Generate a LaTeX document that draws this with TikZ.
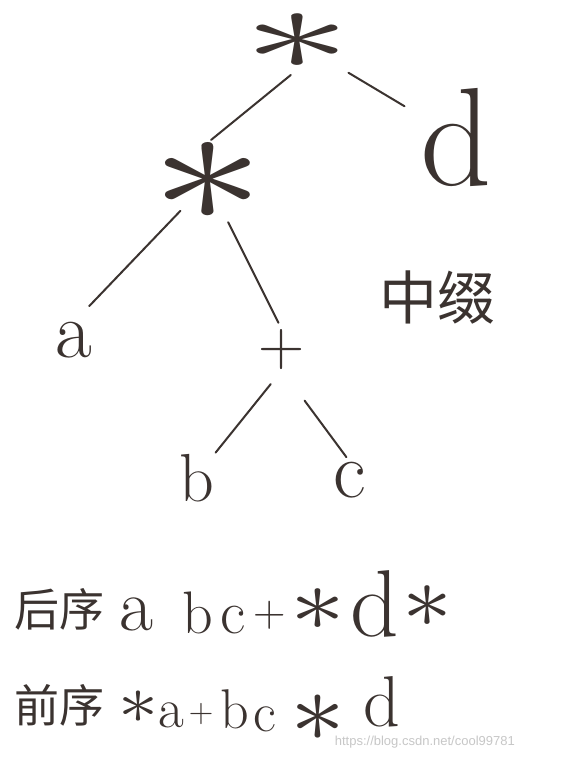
\documentclass[tikz,border=0pt]{standalone}
\usepackage{fontspec}
\usepackage{graphicx}
\usepackage{xcolor}
\newfontfamily\cjk{Noto Sans CJK SC}
\newfontfamily\wmfont{Liberation Sans}
\usetikzlibrary{positioning}
\definecolor{ink}{HTML}{3B3330}
\newcommand{\bigast}[2]{\scalebox{#1}[#2]{$\ast$}}
\newcommand{\fs}[1]{\fontsize{#1}{#1}\selectfont}

\begin{document}
\begin{tikzpicture}[
  x=1pt, y=-1pt,
  tok/.style={text=ink, inner sep=0pt, outer sep=0pt},
  edge/.style={draw=ink, line width=2pt, line cap=round}
]
\useasboundingbox (0,0) rectangle (579,758);
\fill[white] (0,0) rectangle (579,758);

% tree
\node[tok] (root) at (297,42) {\bigast{22}{12}};
\node[tok] (mul) at (208,182) {\bigast{23}{17}};
\node[tok, font=\fs{140}] (d) at (456,137) {d};
\node[tok, font=\fs{80}] (a) at (74,340) {a};
\node[tok, font=\fs{64}] (plus) at (282,350) {+};
\node[tok, font=\fs{68}] (b) at (197,478) {b};
\node[tok, font=\fs{80}] (c) at (350,480) {c};
\node[tok, font=\fs{58}\cjk] (infix) at (437,298) {中缀};

\draw[edge, shorten <=8pt, shorten >=4pt] (root.south) -- (mul.north);
\draw[edge, shorten <=60pt, shorten >=60pt] (root.center) -- (d.center);
\draw[edge, shorten <=40pt, shorten >=22pt] (mul.center) -- (a.north);
\draw[edge, shorten <=45pt, shorten >=8pt] (mul.center) -- (plus.north);
\draw[edge, shorten <=18pt, shorten >=2pt] (plus.south) -- (b.north east);
\draw[edge, shorten <=38pt, shorten >=6pt] (plus.south) -- (c.north);

% postorder row
\node[tok, font=\fs{45}\cjk, anchor=base west] (post) at (14,626) {后序};
\node[tok, font=\fs{74}, anchor=base west] (post1) at (119,630) {a};
\node[tok, font=\fs{60}, anchor=base west] (post2) at (182,633) {b};
\node[tok, font=\fs{62}, anchor=base west] (post3) at (220,633) {c};
\node[tok, font=\fs{45}] (post4) at (270,615) {+};
\node[tok] (post5) at (318,610) {\bigast{11}{9}};
\node[tok, font=\fs{95}] (post6) at (375,604) {d};
\node[tok] (post7) at (427,607) {\bigast{10}{9}};

% preorder row
\node[tok, font=\fs{45}\cjk, anchor=base west] (pre) at (14,722) {前序};
\node[tok] (pre1) at (138,707) {\bigast{8}{7}};
\node[tok, font=\fs{56}, anchor=base west] (pre2) at (158,727) {a};
\node[tok, font=\fs{34}] (pre3) at (201,714) {+};
\node[tok, font=\fs{56}, anchor=base west] (pre4) at (220,728) {b};
\node[tok, font=\fs{56}, anchor=base west] (pre5) at (253,731) {c};
\node[tok] (pre6) at (318,718) {\bigast{11}{10}};
\node[tok, font=\fs{72}] (pre7) at (382,702) {d};

\node[text=black!22, font=\wmfont\fs{13}, anchor=east, inner sep=0pt] (mark) at (515,742) {https://blog.csdn.net/cool99781};
\end{tikzpicture}
\end{document}
